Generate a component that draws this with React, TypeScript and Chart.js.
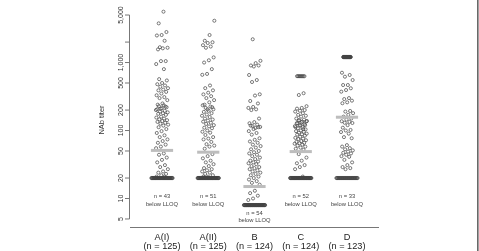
import React, { useEffect, useRef } from 'react';
import { Chart, registerables } from 'chart.js';

Chart.register(...registerables);

// ---- data ----
const categories = ['A(I)', 'A(II)', 'B', 'C', 'D'];
const groupSizes = [125, 125, 124, 124, 123];
const belowLLOQ = [43, 51, 54, 52, 33];
const lloq = [20, 20, 8, 20, 20];
const uloq = [0, 0, 0, 630, 1205];
const atULOQ = [0, 0, 0, 8, 40];
const medians = [51, 48, 15, 49, 157];

// measured titers above LLOQ (and below ULOQ)
const titersAI = [
  5600, 3770, 2810, 2540, 2500, 2090, 1680, 1650, 1620, 1560, 1050, 1050, 950, 800,
  570, 545, 500, 480, 460, 440, 420, 400, 390, 370, 350, 330, 310, 300, 280, 250, 240, 225, 210, 200,
  235, 228, 220, 212, 205, 195, 190, 185, 180, 176, 170, 160, 155, 150, 146, 142, 138, 134, 130, 126, 122, 118,
  112, 105, 98, 92, 85, 80, 74, 70, 66, 62, 58, 55,
  46, 44, 40, 37, 34, 31, 29, 27, 25, 24, 23, 22, 21, 21,
];
const titersAII = [
  4120, 2540, 2090, 1990, 1940, 1800, 1720, 1650, 1190, 1080, 1000, 800, 680, 660,
  460, 420, 390, 360, 340, 320, 300, 280, 260, 240, 220, 205,
  235, 225, 215, 205, 195, 188, 180, 172, 165, 158, 150, 145, 140, 135, 130, 125, 120,
  115, 110, 108, 100, 96, 93, 86, 80, 76, 74, 68, 63, 60, 58, 54,
  45, 42, 39, 36, 34, 32, 30, 28, 27, 26, 25, 24, 23, 22, 21, 21,
];
const titersB = [
  2200, 1060, 980, 905, 905, 875, 656, 553, 517, 341, 327, 272, 250, 222, 215, 205, 200, 150,
  133, 128, 122, 117, 113, 109, 118, 112, 105, 98, 92, 87,
  77, 73, 69, 66, 62, 59, 56, 53, 50,
  48, 46, 44, 42, 40, 38, 36, 35, 34,
  33, 32, 30, 29, 28, 27, 26, 25, 24, 23, 22, 21, 20, 19, 18,
  17, 16, 13, 12, 11, 10, 9.5,
];
const titersC = [
  354, 333,
  228, 215, 210, 200, 195, 190, 180, 170, 165, 160, 150, 145, 142, 138, 135, 128, 120, 118, 112, 105,
  140, 136, 132, 128, 124, 120, 116, 112, 108, 104, 100, 98, 96, 93, 90, 88, 87, 84, 81, 78, 76, 75,
  72, 70, 68, 66, 65, 64, 62, 60, 58, 56, 54, 52,
  45, 40, 36, 33, 31, 29, 27, 21,
];
const titersD = [
  708, 656, 619, 553, 467, 467, 418, 394, 373, 300, 290, 275, 260, 252, 194, 190, 180, 170, 160, 150, 145,
  137, 134, 130, 129, 120, 110, 102, 100, 95, 90, 80, 77,
  61, 58, 55, 53, 51, 49, 47, 46, 44, 42, 41,
  37, 34, 31, 29, 28, 27,
];
const groups = [titersAI, titersAII, titersB, titersC, titersD];

const yTickValues = [5, 10, 20, 50, 100, 200, 500, 1000, 2000, 5000];
const yTickLabels = ['5', '10', '20', '50', '100', '200', '500', '1,000', '', '5,000'];
const yTitle = 'NAb titer';
const noteAt = [10.6, 10.6, 6.0, 10.6, 10.6];

const FONT = '"Liberation Sans", Arial, Helvetica, sans-serif';

function buildPoints() {
  const pts: { x: number; y: number }[] = [];
  groups.forEach((vals, g) => {
    const cx = g + 1;
    vals.forEach((v, i) => {
      const f = ((i + 1) * 0.6180339 + g * 0.37) % 1;
      pts.push({ x: cx + (f - 0.5) * 0.27, y: v });
    });
    const n = belowLLOQ[g];
    for (let k = 0; k < n; k++) {
      pts.push({ x: cx - 0.23 + (0.46 * k) / (n - 1), y: lloq[g] });
    }
    const u = atULOQ[g];
    for (let k = 0; k < u; k++) {
      pts.push({ x: cx - 0.08 + (0.16 * k) / Math.max(1, u - 1), y: uloq[g] });
    }
  });
  return pts;
}

const annotate = {
  id: 'annotate',
  afterDraw(chart: any) {
    const ctx = chart.ctx as CanvasRenderingContext2D;
    const { left, right, bottom } = chart.chartArea;
    const ys = chart.scales.y;
    const xs = chart.scales.x;
    ctx.save();
    // y axis
    const ax = Math.round(left) - 0.5;
    ctx.strokeStyle = '#777';
    ctx.lineWidth = 1;
    ctx.beginPath();
    ctx.moveTo(ax, ys.getPixelForValue(yTickValues[0]));
    ctx.lineTo(ax, ys.getPixelForValue(yTickValues[yTickValues.length - 1]));
    ctx.stroke();
    ctx.fillStyle = '#333';
    ctx.font = `7px ${FONT}`;
    ctx.textAlign = 'center';
    ctx.textBaseline = 'middle';
    yTickValues.forEach((v, i) => {
      const py = ys.getPixelForValue(v);
      ctx.beginPath();
      ctx.moveTo(ax - 4.5, py);
      ctx.lineTo(ax, py);
      ctx.stroke();
      if (yTickLabels[i]) {
        ctx.save();
        ctx.translate(ax - 8, py);
        ctx.rotate(-Math.PI / 2);
        ctx.fillText(yTickLabels[i], 0, 0);
        ctx.restore();
      }
    });
    // y title
    ctx.save();
    ctx.font = `7.5px ${FONT}`;
    ctx.translate(102, (ys.getPixelForValue(5) + ys.getPixelForValue(5000)) / 2 + 3);
    ctx.rotate(-Math.PI / 2);
    ctx.fillText(yTitle, 0, 0);
    ctx.restore();
    // x axis line
    ctx.beginPath();
    ctx.moveTo(left, Math.round(bottom) + 0.5);
    ctx.lineTo(right, Math.round(bottom) + 0.5);
    ctx.stroke();
    // category labels
    ctx.fillStyle = '#222';
    ctx.font = `9.2px ${FONT}`;
    categories.forEach((c, g) => {
      const px = xs.getPixelForValue(g + 1);
      ctx.fillText(c, px, bottom + 10);
      ctx.fillText(`(n = ${groupSizes[g]})`, px, bottom + 19);
    });
    // below LLOQ notes
    ctx.fillStyle = '#444';
    ctx.font = `5.8px ${FONT}`;
    categories.forEach((c, g) => {
      const px = xs.getPixelForValue(g + 1);
      const py = ys.getPixelForValue(noteAt[g]);
      ctx.fillText(`n = ${belowLLOQ[g]}`, px, py);
      ctx.fillText('below LLOQ', px, py + 7.3);
    });
    // right frame line
    ctx.fillStyle = '#444';
    ctx.fillRect(477.2, 0, 1.3, chart.height);
    ctx.restore();
  },
};

export default function App() {
  const ref = useRef<HTMLCanvasElement | null>(null);
  useEffect(() => {
    if (!ref.current) return;
    const medianSets = medians.map((m, g) => ({
      data: [
        { x: g + 1 - 0.24, y: m },
        { x: g + 1 + 0.24, y: m },
      ],
      showLine: true,
      borderColor: '#bdbdbd',
      backgroundColor: '#bdbdbd',
      borderWidth: 3,
      borderCapStyle: 'butt' as const,
      pointRadius: 0,
      order: 0,
    }));
    const chart = new Chart(ref.current, {
      type: 'scatter',
      data: {
        datasets: [
          ...medianSets,
          {
            data: buildPoints(),
            pointStyle: 'circle',
            pointRadius: 1.55,
            borderWidth: 0.7,
            borderColor: '#444',
            backgroundColor: 'rgba(0,0,0,0)',
            order: 1,
          },
        ],
      },
      options: {
        animation: false,
        responsive: false,
        devicePixelRatio: 1,
        layout: { padding: { left: 130, right: 100, top: 5, bottom: 24 } },
        plugins: { legend: { display: false }, tooltip: { enabled: false } },
        scales: {
          x: { type: 'linear', display: false, min: 0.308, max: 5.692 },
          y: { type: 'logarithmic', display: false, min: 3.81, max: 7022 },
        },
      },
      plugins: [annotate],
    });
    return () => chart.destroy();
  }, []);
  return (
    <div style={{ position: 'fixed', left: 0, top: 0, width: 479, height: 251, background: '#fff' }}>
      <canvas ref={ref} width={479} height={251} style={{ display: 'block' }} />
    </div>
  );
}
